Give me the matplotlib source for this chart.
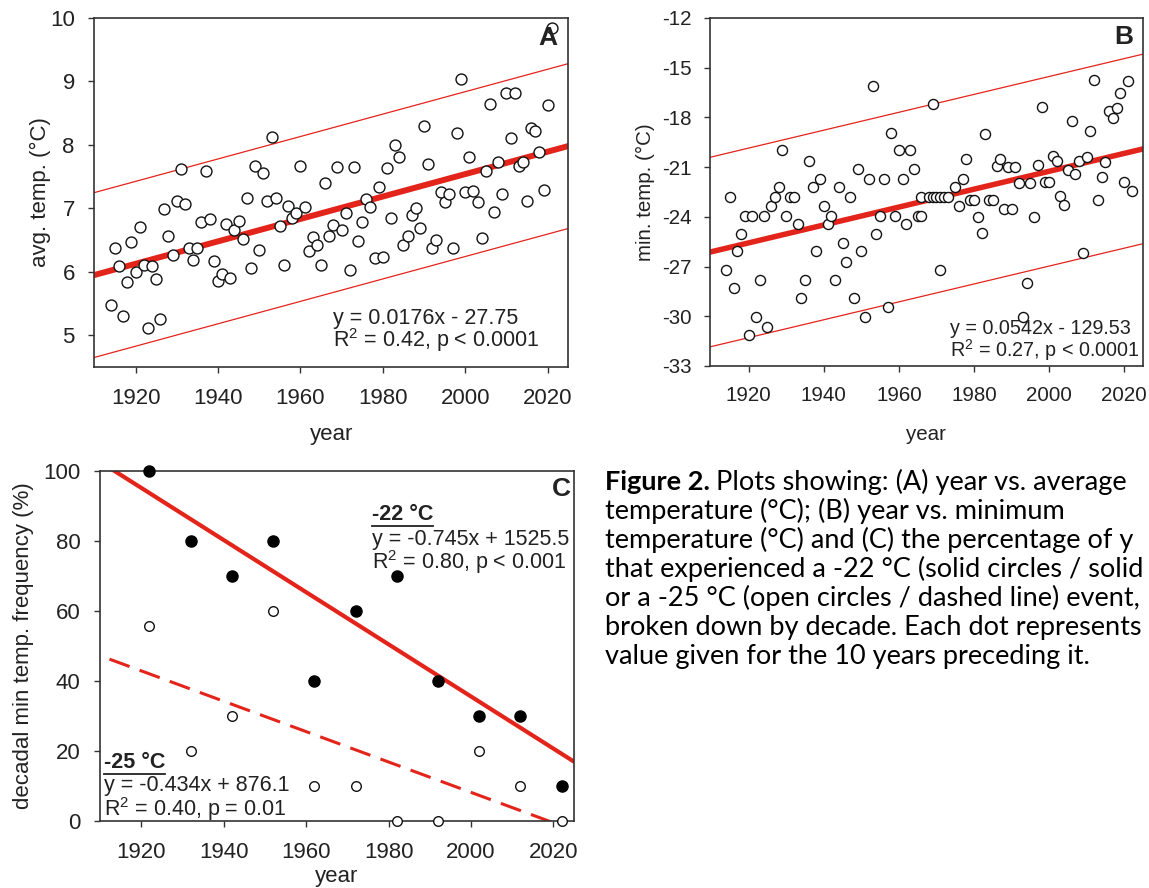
import numpy as np
import matplotlib
matplotlib.use("Agg")
import matplotlib.pyplot as plt
from matplotlib.lines import Line2D

# ---------------- data ----------------
# Panel A: year vs average temperature
years_a = [1914, 1915, 1916, 1917, 1918, 1919, 1920, 1921, 1922, 1923, 1924, 1925, 1926, 1927,
           1928, 1929, 1930, 1931, 1932, 1933, 1934, 1935, 1936, 1937, 1938, 1939, 1940, 1941,
           1942, 1943, 1944, 1945, 1946, 1947, 1948, 1949, 1950, 1951, 1952, 1953, 1954, 1955,
           1956, 1957, 1958, 1959, 1960, 1961, 1962, 1963, 1964, 1965, 1966, 1967, 1968, 1969,
           1970, 1971, 1972, 1973, 1974, 1975, 1976, 1977, 1978, 1979, 1980, 1981, 1982, 1983,
           1984, 1985, 1986, 1987, 1988, 1989, 1990, 1991, 1992, 1993, 1994, 1995, 1996, 1997,
           1998, 1999, 2000, 2001, 2002, 2003, 2004, 2005, 2006, 2007, 2008, 2009, 2010, 2011,
           2012, 2013, 2014, 2015, 2016, 2017, 2018, 2019, 2020, 2021]
temp_a = [5.47, 6.37, 6.09, 5.30, 5.84, 6.47, 6.00, 6.70, 6.10, 5.11, 6.09, 5.88, 5.26, 6.98,
          6.56, 6.26, 7.11, 7.62, 7.06, 6.38, 6.18, 6.37, 6.78, 7.58, 6.83, 6.17, 5.85, 5.97,
          6.75, 5.90, 6.66, 6.80, 6.52, 7.16, 6.05, 7.67, 6.34, 7.55, 7.12, 8.12, 7.16, 6.72,
          6.10, 7.03, 6.84, 6.92, 7.67, 7.02, 6.32, 6.55, 6.42, 6.11, 7.40, 6.56, 6.73, 7.65,
          6.66, 6.92, 6.03, 7.65, 6.49, 6.78, 7.14, 7.02, 6.22, 7.34, 6.23, 7.64, 6.84, 7.99,
          7.80, 6.42, 6.56, 6.89, 7.01, 6.68, 8.29, 7.69, 6.37, 6.50, 7.26, 7.10, 7.22, 6.37,
          8.19, 9.04, 7.26, 7.80, 7.27, 7.09, 6.53, 7.59, 8.64, 6.94, 7.73, 7.22, 8.81, 8.11,
          8.82, 7.67, 7.73, 7.11, 8.26, 8.21, 7.89, 7.29, 8.63, 9.85]
trend_a = [0.01769, -27.842]   # slope, intercept of drawn regression line
band_a = 1.30                  # half-width of prediction band

# Panel B: year vs minimum temperature
years_b = [1914, 1915, 1916, 1917, 1918, 1919, 1920, 1921, 1922, 1923, 1924, 1925, 1926, 1927,
           1928, 1929, 1930, 1931, 1932, 1933, 1934, 1935, 1936, 1937, 1938, 1939, 1940, 1941,
           1942, 1943, 1944, 1945, 1946, 1947, 1948, 1949, 1950, 1951, 1952, 1953, 1954, 1955,
           1956, 1957, 1958, 1959, 1960, 1961, 1962, 1963, 1964, 1965, 1966, 1966, 1968, 1969,
           1970, 1971, 1972, 1973, 1969, 1971, 1975, 1976, 1977, 1978, 1979, 1980, 1981, 1982,
           1983, 1984, 1985, 1986, 1987, 1988, 1989, 1990, 1991, 1992, 1993, 1994, 1995, 1996,
           1997, 1998, 1999, 2000, 2001, 2002, 2003, 2004, 2005, 2006, 2007, 2008, 2009, 2010,
           2011, 2012, 2013, 2014, 2015, 2016, 2017, 2018, 2019, 2020, 2021, 2022]
temp_b = [-27.2, -22.81, -28.3, -26.09, -25.03, -23.92, -31.12, -23.92, -30.02, -27.8, -23.92,
          -30.62, -23.32, -22.81, -22.17, -19.99, -23.92, -22.81, -22.81, -24.42, -28.91, -27.8,
          -20.6, -22.17, -26.09, -21.7, -23.32, -24.42, -23.92, -27.8, -22.17, -25.59, -26.7,
          -22.81, -28.91, -21.1, -26.09, -30.02, -21.7, -16.09, -25.03, -23.92, -21.7, -29.41,
          -18.91, -23.92, -19.99, -21.7, -24.42, -19.99, -21.1, -23.92, -23.92, -22.81, -22.81,
          -22.81, -22.81, -22.81, -22.81, -22.81, -17.19, -27.2, -22.2, -23.32, -21.7, -20.5,
          -23.0, -23.0, -24.02, -24.98, -18.99, -23.0, -23.0, -20.96, -20.5, -23.52, -21.0,
          -23.52, -21.0, -21.96, -30.02, -28.0, -21.96, -24.02, -20.9, -17.4, -21.9, -21.9,
          -20.3, -20.6, -22.77, -23.27, -21.2, -18.2, -21.4, -20.6, -26.19, -20.36, -18.79,
          -15.77, -23.0, -21.6, -20.7, -17.64, -18.04, -17.43, -16.53, -21.9, -15.79, -22.41]
trend_b = [0.0540, -129.25]
band_b = 5.72

# Panel C: decadal frequency of -22 C and -25 C events
decades_c = [1922, 1932, 1942, 1952, 1962, 1972, 1982, 1992, 2002, 2012, 2022]
freq22_c = [100, 80, 70, 80, 40, 60, 70, 40, 30, 30, 10]
freq25_c = [55.6, 20, 30, 60, 10, 10, 0, 0, 20, 10, 0]
fit22_c = [-0.745, 1525.5]
fit25_c = [-0.434, 876.1]

# ---------------- style ----------------
plt.rcParams['font.family'] = ['Liberation Sans', 'DejaVu Sans']
plt.rcParams['mathtext.fontset'] = 'custom'
plt.rcParams['mathtext.rm'] = 'Liberation Sans'
plt.rcParams['mathtext.it'] = 'Liberation Sans:italic'
plt.rcParams['mathtext.bf'] = 'Liberation Sans:bold'
plt.rcParams['axes.unicode_minus'] = False

RED = '#e3241b'
INK = '#222222'
W, H = 1149, 888
fig = plt.figure(figsize=(W / 100, H / 100), dpi=100)


def px_axes(x0, y0, x1, y1):
    return fig.add_axes([x0 / W, 1 - y1 / H, (x1 - x0) / W, (y1 - y0) / H])


def style(ax, k=1.0):
    for s in ax.spines.values():
        s.set_color('#333333')
        s.set_linewidth(1.2)
    ax.tick_params(direction='out', length=4.5 * k, width=1, color='#333333',
                   labelsize=16 * k, labelcolor=INK)
    ax.tick_params(axis='x', pad=11 * k)
    ax.tick_params(axis='y', pad=9.5 * k)


axA = px_axes(94.3, 18, 568.3, 366.7)
axB = px_axes(710, 18, 1143, 366)
axC = px_axes(100, 470.7, 574, 820.7)

xs = np.array([1905.0, 2030.0])

# Panel A
axA.plot(xs, trend_a[0] * xs + trend_a[1], color=RED, lw=4.3, zorder=2, solid_capstyle='butt')
axA.plot(xs, trend_a[0] * xs + trend_a[1] + band_a, color=RED, lw=0.9, zorder=2)
axA.plot(xs, trend_a[0] * xs + trend_a[1] - band_a, color=RED, lw=0.9, zorder=2)
axA.scatter(years_a, temp_a, s=62, facecolor='white', edgecolor='#111111', linewidths=1.0,
            zorder=3, clip_on=False)
axA.set_xlim(1910, 2025)
axA.set_ylim(4.5, 10)
axA.set_xticks([1920, 1940, 1960, 1980, 2000, 2020])
axA.set_yticks([5, 6, 7, 8, 9, 10])
style(axA)
axA.set_ylabel('avg. temp. (°C)', fontsize=16, color=INK)
axA.set_xlabel('year', fontsize=16, color=INK)
axA.yaxis.set_label_coords(-0.091, 0.5)
axA.xaxis.set_label_coords(0.5, -0.164)
axA.text(0.503, 0.139, 'y = 0.0176x - 27.75', transform=axA.transAxes, fontsize=15.5,
         color=INK, va='center', ha='left')
axA.text(0.503, 0.075, 'R$^2$ = 0.42, p < 0.0001', transform=axA.transAxes, fontsize=15.5,
         color=INK, va='center', ha='left')
axA.text(0.957, 0.944, 'A', transform=axA.transAxes, fontsize=19, fontweight='bold',
         color=INK, va='center', ha='center')

# Panel B (source panel drawn ~0.92 scale)
kB = 0.92
axB.plot(xs, trend_b[0] * xs + trend_b[1], color=RED, lw=4.3 * kB, zorder=2,
         solid_capstyle='butt')
axB.plot(xs, trend_b[0] * xs + trend_b[1] + band_b, color=RED, lw=0.9, zorder=2)
axB.plot(xs, trend_b[0] * xs + trend_b[1] - band_b, color=RED, lw=0.9, zorder=2)
axB.scatter(years_b, temp_b, s=62 * kB * kB, facecolor='white', edgecolor='#111111',
            linewidths=1.0, zorder=3, clip_on=False)
axB.set_xlim(1909.7, 2025)
axB.set_ylim(-33, -12)
axB.set_xticks([1920, 1940, 1960, 1980, 2000, 2020])
axB.set_yticks([-33, -30, -27, -24, -21, -18, -15, -12])
style(axB, kB)
axB.set_ylabel('min. temp. (°C)', fontsize=16 * kB, color=INK)
axB.set_xlabel('year', fontsize=16 * kB, color=INK)
axB.yaxis.set_label_coords(-0.128, 0.5)
axB.xaxis.set_label_coords(0.5, -0.17)
axB.text(0.554, 0.108, 'y = 0.0542x - 129.53', transform=axB.transAxes, fontsize=15.5 * kB,
         color=INK, va='center', ha='left')
axB.text(0.554, 0.046, 'R$^2$ = 0.27, p < 0.0001', transform=axB.transAxes,
         fontsize=15.5 * kB, color=INK, va='center', ha='left')
axB.text(0.956, 0.945, 'B', transform=axB.transAxes, fontsize=19, fontweight='bold',
         color=INK, va='center', ha='center')

# Panel C
axC.plot(xs, fit22_c[0] * xs + fit22_c[1], color=RED, lw=3.0, zorder=2)
axC.plot(xs, fit25_c[0] * xs + fit25_c[1], color=RED, lw=2.2, zorder=2,
         linestyle=(0, (7, 3.5)))
axC.scatter(decades_c, freq25_c, s=48, facecolor='white', edgecolor='#111111', linewidths=1.0,
            zorder=3, clip_on=False)
axC.scatter(decades_c, freq22_c, s=64, facecolor='black', edgecolor='black', linewidths=1.0,
            zorder=3, clip_on=False)
axC.set_xlim(1910, 2025)
axC.set_ylim(0, 100)
axC.set_xticks([1920, 1940, 1960, 1980, 2000, 2020])
axC.set_yticks([0, 20, 40, 60, 80, 100])
style(axC)
axC.set_ylabel('decadal min temp. frequency (%)', fontsize=16, color=INK)
axC.set_xlabel('year', fontsize=16, color=INK)
axC.yaxis.set_label_coords(-0.139, 0.5)
axC.xaxis.set_label_coords(0.5, -0.128)
axC.text(0.9726, 0.949, 'C', transform=axC.transAxes, fontsize=19, fontweight='bold',
         color=INK, va='center', ha='center')
t22 = axC.text(0.574, 0.876, '-22 °C', transform=axC.transAxes, fontsize=15.5,
               fontweight='bold', color=INK, va='center', ha='left')
axC.text(0.574, 0.804, 'y = -0.745x + 1525.5', transform=axC.transAxes, fontsize=15.5,
         color=INK, va='center', ha='left')
axC.text(0.574, 0.740, 'R$^2$ = 0.80, p < 0.001', transform=axC.transAxes, fontsize=15.5,
         color=INK, va='center', ha='left')
t25 = axC.text(0.008, 0.167, '-25 °C', transform=axC.transAxes, fontsize=15.5,
               fontweight='bold', color=INK, va='center', ha='left')
axC.text(0.008, 0.100, 'y = -0.434x + 876.1', transform=axC.transAxes, fontsize=15.5,
         color=INK, va='center', ha='left')
axC.text(0.008, 0.034, 'R$^2$ = 0.40, p = 0.01', transform=axC.transAxes, fontsize=15.5,
         color=INK, va='center', ha='left')

# Caption (text as visible in the cropped figure)
caption_font = ['Lato', 'DejaVu Sans']
cap_x = 605 / W
cap_y0 = 482
cap_dy = 29
cap_size = 19.5
cap_lines = [
    'temperature (°C); (B) year vs. minimum',
    'temperature (°C) and (C) the percentage of y',
    'that experienced a -22 °C (solid circles / solid',
    'or a -25 °C (open circles / dashed line) event,',
    'broken down by decade. Each dot represents',
    'value given for the 10 years preceding it.',
]
tb = fig.text(cap_x, 1 - cap_y0 / H, 'Figure 2.', fontsize=cap_size, fontweight='bold',
              family=caption_font, color='black', va='center', ha='left')
for i, line in enumerate(cap_lines, start=1):
    fig.text(cap_x, 1 - (cap_y0 + i * cap_dy) / H, line, fontsize=cap_size,
             family=caption_font, color='black', va='center', ha='left')

fig.canvas.draw()
renderer = fig.canvas.get_renderer()
bb = tb.get_window_extent(renderer)
fig.text(bb.x1 / W + 6 / W, 1 - cap_y0 / H, 'Plots showing: (A) year vs. average',
         fontsize=cap_size, family=caption_font, color='black', va='center', ha='left')

# underline the bold panel-C labels
for t in (t22, t25):
    b = t.get_window_extent(renderer)
    yline = b.y0 - 1
    fig.add_artist(Line2D([b.x0 / W, b.x1 / W], [yline / H, yline / H],
                          transform=fig.transFigure, color=INK, lw=1.3))

fig.savefig('out.png', dpi=100)
